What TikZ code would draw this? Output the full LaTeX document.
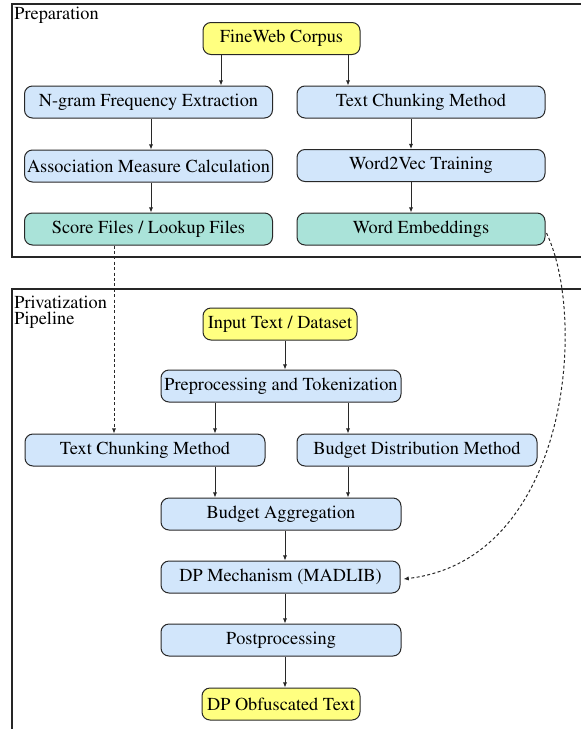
\documentclass[tikz,border=0pt]{standalone}
\usepackage[T1]{fontenc}
\renewcommand{\rmdefault}{ptm}
\usetikzlibrary{arrows.meta,calc}
\definecolor{yelc}{RGB}{255,255,128}
\definecolor{bluec}{RGB}{210,230,251}
\definecolor{tealc}{RGB}{170,227,217}
\definecolor{linec}{RGB}{40,40,40}
\newcommand{\dfont}{\rmfamily\fontsize{9.15}{8}\selectfont}
\begin{document}
\begin{tikzpicture}[x=0.5pt,y=-0.5pt,
  box/.style={rounded corners=4pt, draw=linec, line width=0.5pt, minimum height=16pt,
    inner sep=0pt, font=\dfont, align=center},
  yel/.style={box, fill=yelc},
  blu/.style={box, fill=bluec},
  tea/.style={box, fill=tealc},
  arr/.style={draw=linec, line width=0.5pt, -{Latex[length=2.6pt,width=2.2pt]}},
  darr/.style={arr, dash pattern=on 1.5pt off 1.2pt},
  frame/.style={draw=black!85, line width=0.6pt},
  ttl/.style={anchor=north west, inner sep=0pt, font=\dfont, align=left}]
\useasboundingbox (0,0) rectangle (581,729);
\clip (0,0) rectangle (581,729);
% frames
\draw[frame] (600,4) -- (12,4) -- (12,257) -- (600,257);
\draw[frame] (600,289) -- (12,289) -- (12,760);
\node[ttl] (prep) at (14,7) {Preparation};
\node[ttl] (priv) at (14,296) {Privatization\\Pipeline};
% column x coordinates
\coordinate (x114) at (114,0);
\coordinate (x151) at (151,0);
\coordinate (x215) at (215,0);
\coordinate (x221) at (221,0);
\coordinate (x285) at (285,0);
\coordinate (x348) at (348,0);
\coordinate (x411) at (411,0);
% preparation nodes
\node[yel, minimum width=78.5pt] (fw) at (281.5,38.5) {FineWeb Corpus};
\node[blu, minimum width=124pt] (ng) at (148.5,102) {N-gram Frequency Extraction};
\node[blu, minimum width=124pt] (tc1) at (421,102) {Text Chunking Method};
\node[blu, minimum width=124pt] (am) at (148.5,166) {Association Measure Calculation};
\node[blu, minimum width=124pt] (w2v) at (421,165.5) {Word2Vec Training};
\node[tea, minimum width=124pt] (sf) at (148.5,229) {Score Files / Lookup Files};
\node[tea, minimum width=124pt] (we) at (421,229) {Word Embeddings};
% pipeline nodes
\node[yel, minimum width=77pt] (in) at (280,324) {Input Text / Dataset};
\node[blu, minimum width=120pt] (pre) at (281,386) {Preprocessing and Tokenization};
\node[blu, minimum width=120pt] (tc2) at (145,450) {Text Chunking Method};
\node[blu, minimum width=120pt] (bd) at (417,450) {Budget Distribution Method};
\node[blu, minimum width=120pt] (ba) at (281,514) {Budget Aggregation};
\node[blu, minimum width=119.5pt] (dp) at (280.5,577) {DP Mechanism (MADLIB)};
\node[blu, minimum width=120pt] (pp) at (281,640) {Postprocessing};
\node[yel, minimum width=79pt] (out) at (281,704) {DP Obfuscated Text};
% arrows
\draw[arr] (fw.south -| x221) -- (ng.north -| x221);
\draw[arr] (fw.south -| x348) -- (tc1.north -| x348);
\draw[arr] (ng.south -| x151) -- (am.north -| x151);
\draw[arr] (am.south -| x151) -- (sf.north -| x151);
\draw[arr] (tc1.south -| x411) -- (w2v.north -| x411);
\draw[arr] (w2v.south -| x411) -- (we.north -| x411);
\draw[arr] (in.south -| x285) -- (pre.north -| x285);
\draw[arr] (pre.south -| x215) -- (tc2.north -| x215);
\draw[arr] (pre.south -| x348) -- (bd.north -| x348);
\draw[arr] (tc2.south -| x215) -- (ba.north -| x215);
\draw[arr] (bd.south -| x348) -- (ba.north -| x348);
\draw[arr] (ba.south -| x285) -- (dp.north -| x285);
\draw[arr] (dp.south -| x285) -- (pp.north -| x285);
\draw[arr] (pp.south -| x285) -- (out.north -| x285);
% dashed
\draw[darr] (sf.south -| x114) -- (tc2.north -| x114);
\draw[darr] ([xshift=0.5pt,yshift=-2pt]we.east) .. controls (588,320) and (568,560) .. ([xshift=1.5pt,yshift=-1pt]dp.east);
\end{tikzpicture}
\end{document}
